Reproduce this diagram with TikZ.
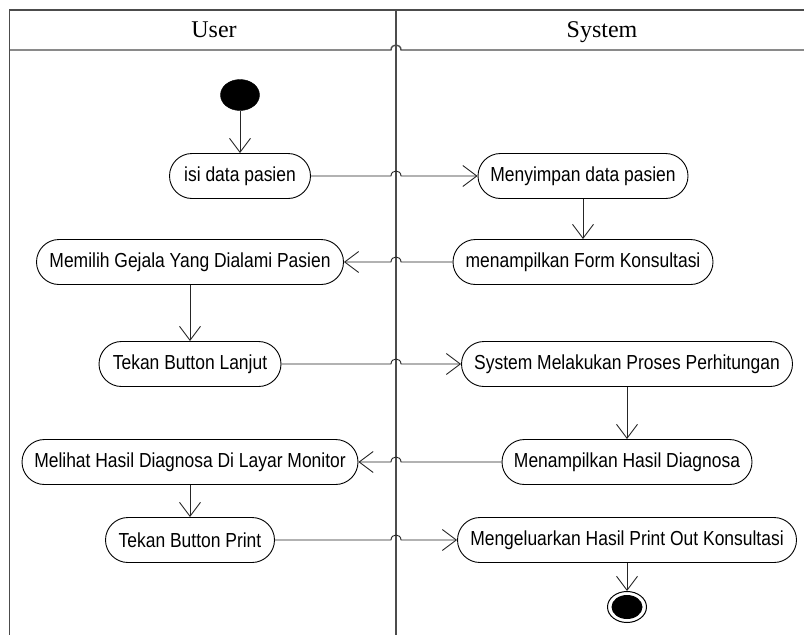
\documentclass[tikz,border=0pt]{standalone}
\usepackage{fontspec}
\setmainfont{Liberation Serif}
\newfontfamily\arialf[FakeStretch=0.86]{Liberation Sans}
\usetikzlibrary{arrows.meta,shapes.geometric}
\tikzset{
  act/.style={draw=black, line width=0.9pt, rectangle, rounded corners=22.5pt,
    minimum height=45pt, inner sep=0pt, font=\arialf\fontsize{20.3}{22}\selectfont},
  conn/.style={draw=black!85, line width=0.9pt, -{Straight Barb[length=14pt,width=21pt,line width=0.9pt]}},
  frame/.style={draw=black!70, line width=1.4pt},
  lanehead/.style={font=\fontsize{24}{28}\selectfont, inner sep=0pt, anchor=base},
}
\begin{document}
\begin{tikzpicture}[x=1pt,y=-1pt]
\useasboundingbox (0,0) rectangle (804,635);
% frame
\draw[frame] (9.5,635) -- (9.5,10) -- (804,10);
\draw[frame] (396,10) -- (396,635);
\draw[frame] (9.5,50) -- (391,50) .. controls +(0,-6.67) and +(0,-6.67) .. (401,50) -- (804,50);
\node[lanehead] (huser) at (214,37.5) {User};
\node[lanehead] (hsys) at (602,37.5) {System};
% hop coordinates
\coordinate (hl) at (391,0);
\coordinate (hr) at (401,0);
% start / end
\node[ellipse, fill=black, draw=black, minimum width=39pt, minimum height=31pt, inner sep=0pt] (start) at (240,95) {};
\node[ellipse, fill=white, draw=black, line width=1pt, minimum width=39pt, minimum height=31pt, inner sep=0pt] (endo) at (627,607) {};
\node[ellipse, fill=black, minimum width=31pt, minimum height=24pt, inner sep=0pt] (endi) at (627,607) {};
% activities
\node[act, minimum width=141pt] (isi) at (240,176) {isi data pasien};
\node[act, minimum width=210pt] (simpan) at (583,176) {Menyimpan data pasien};
\node[act, minimum width=260pt] (form) at (583,262) {menampilkan Form Konsultasi};
\node[act, minimum width=307pt] (pilih) at (190,262) {Memilih Gejala Yang Dialami Pasien};
\node[act, minimum width=182pt] (lanjut) at (190,364) {Tekan Button Lanjut};
\node[act, minimum width=331pt] (hitung) at (627,364) {System Melakukan Proses Perhitungan};
\node[act, minimum width=250pt] (hasil) at (627,462) {Menampilkan Hasil Diagnosa};
\node[act, minimum width=336pt] (lihat) at (190,462) {Melihat Hasil Diagnosa Di Layar Monitor};
\node[act, minimum width=169pt] (print) at (190,540) {Tekan Button Print};
\node[act, minimum width=339pt] (keluar) at (627,540) {Mengeluarkan Hasil Print Out Konsultasi};
% vertical flows
\draw[conn] (start.south) -- (isi.north);
\draw[conn] (simpan.south) -- (form.north);
\draw[conn] (pilih.south) -- (lanjut.north);
\draw[conn] (hitung.south) -- (hasil.north);
\draw[conn] (lihat.south) -- (print.north);
\draw[conn] (keluar.south) -- (endo.north);
% horizontal flows with hops over the lane divider
\draw[conn] (isi.east) -- (isi.east -| hl) .. controls +(0,-6.67) and +(0,-6.67) .. (isi.east -| hr) -- (simpan.west);
\draw[conn] (form.west) -- (form.west -| hr) .. controls +(0,-6.67) and +(0,-6.67) .. (form.west -| hl) -- (pilih.east);
\draw[conn] (lanjut.east) -- (lanjut.east -| hl) .. controls +(0,-6.67) and +(0,-6.67) .. (lanjut.east -| hr) -- (hitung.west);
\draw[conn] (hasil.west) -- (hasil.west -| hr) .. controls +(0,-6.67) and +(0,-6.67) .. (hasil.west -| hl) -- (lihat.east);
\draw[conn] (print.east) -- (print.east -| hl) .. controls +(0,-6.67) and +(0,-6.67) .. (print.east -| hr) -- (keluar.west);
\end{tikzpicture}
\end{document}
